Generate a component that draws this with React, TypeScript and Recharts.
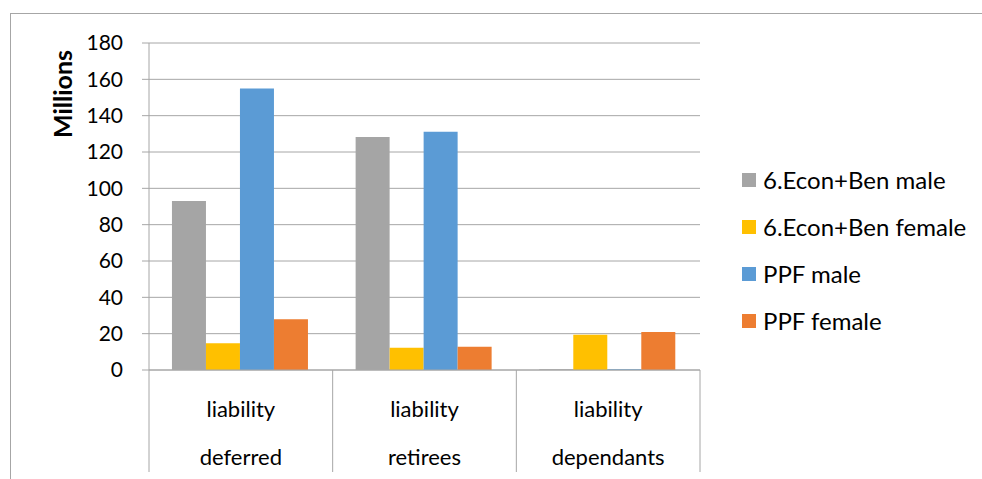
import { BarChart, Bar, XAxis, YAxis, CartesianGrid } from 'recharts';

const categories = ['deferred', 'retirees', 'dependants'];
const econMale = [93, 128.2, 0.4];
const econFemale = [14.7, 12.3, 19.4];
const ppfMale = [155, 131.2, 0.4];
const ppfFemale = [28, 12.8, 20.9];
const yTicks = [0, 20, 40, 60, 80, 100, 120, 140, 160, 180];

const series = [
    { key: 'econMale', name: '6.Econ+Ben male', color: '#a5a5a5' },
    { key: 'econFemale', name: '6.Econ+Ben female', color: '#ffc000' },
    { key: 'ppfMale', name: 'PPF male', color: '#5b9bd5' },
    { key: 'ppfFemale', name: 'PPF female', color: '#ed7d31' },
];

const data = categories.map((c, i) => ({
    category: c,
    econMale: econMale[i],
    econFemale: econFemale[i],
    ppfMale: ppfMale[i],
    ppfFemale: ppfFemale[i],
}));

const W = 982;
const H = 479;
const PLOT_LEFT = 149;
const PLOT_RIGHT = 700;
const PLOT_TOP = 43;
const PLOT_BOTTOM = 370;
const PLOT_W = PLOT_RIGHT - PLOT_LEFT;
const LINE = '#a6a6a6';
const FONT = 'Lato, "Open Sans", sans-serif';

function CategoryTick(props: any) {
    const { x, y, payload, index } = props;
    const band = PLOT_W / categories.length;
    const left = x - band / 2;
    const right = x + band / 2;
    return (
        <g>
            <line x1={left} y1={y} x2={left} y2={y + 102} stroke={LINE} />
            {index === categories.length - 1 && (
                <line x1={right} y1={y} x2={right} y2={y + 102} stroke={LINE} />
            )}
            <text x={x} y={y + 38} textAnchor="middle" dominantBaseline="central" fontSize={22} fill="#000" fontFamily={FONT}>
                liability
            </text>
            <text x={x} y={y + 86} textAnchor="middle" dominantBaseline="central" fontSize={22} fill="#000" fontFamily={FONT}>
                {payload.value}
            </text>
        </g>
    );
}

// legend drawn outside the chart so it doesn't eat into the plot width
function LegendBox() {
    return (
        <div style={{ position: 'absolute', left: 742, top: 156, fontFamily: FONT, fontSize: 24, color: '#000', lineHeight: 1 }}>
            {series.map(s => (
                <div key={s.key} style={{ height: 47, display: 'flex', alignItems: 'center' }}>
                    <span style={{ width: 14, height: 14, background: s.color, marginRight: 7, display: 'inline-block' }} />
                    <span>{s.name}</span>
                </div>
            ))}
        </div>
    );
}

export default function App() {
    return (
        <div style={{ position: 'absolute', left: 0, top: 0, width: W, height: H, background: '#fff', overflow: 'hidden' }}>
            {/* outer frame, only top and left edges visible */}
            <div style={{ position: 'absolute', left: 10, top: 13, right: 0, bottom: 0, borderTop: `1px solid ${LINE}`, borderLeft: `1px solid ${LINE}` }} />
            <BarChart
                width={W}
                height={H}
                data={data}
                margin={{ top: PLOT_TOP, right: W - PLOT_RIGHT, bottom: 0, left: 0 }}
                barCategoryGap="12.5%"
                barGap={0}
            >
                <CartesianGrid vertical={false} stroke={LINE} />
                <XAxis
                    dataKey="category"
                    height={H - PLOT_BOTTOM}
                    stroke={LINE}
                    tickLine={false}
                    tickSize={0}
                    tickMargin={0}
                    tick={<CategoryTick />}
                    interval={0}
                />
                <YAxis
                    width={PLOT_LEFT}
                    domain={[0, 180]}
                    ticks={yTicks}
                    interval={0}
                    stroke={LINE}
                    tickSize={7}
                    tickMargin={19}
                    tick={{ fill: '#000', fontSize: 21, fontFamily: FONT }}
                    label={() => (
                        <text x={62} y={94} transform="rotate(-90 62 94)" textAnchor="middle" dominantBaseline="central" fontSize={25} fontWeight="bold" fontFamily={FONT} fill="#000">
                            Millions
                        </text>
                    )}
                />
                {series.map(s => (
                    <Bar key={s.key} dataKey={s.key} name={s.name} fill={s.color} isAnimationActive={false} />
                ))}
            </BarChart>
            <LegendBox />
        </div>
    );
}
